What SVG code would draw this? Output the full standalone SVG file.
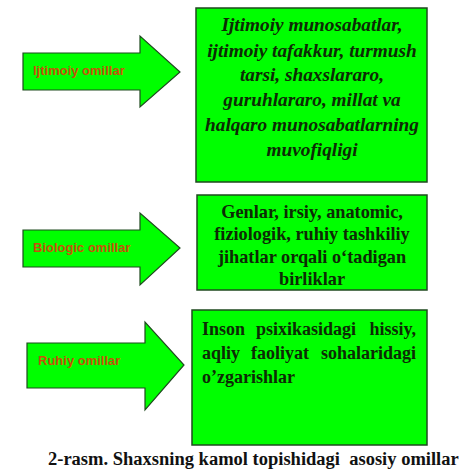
<svg xmlns="http://www.w3.org/2000/svg" width="473" height="472" viewBox="0 0 473 472">
<style>
.arrow{fill:#00ff00;stroke:#1f4a1f;stroke-width:1.2}
.box{fill:#00ff00;stroke:#1f4a1f;stroke-width:1.5}
.lbl{font-family:"Liberation Sans",Arial,sans-serif;font-weight:bold;font-size:13px;fill:#c8500a}
.t1{font-family:"Liberation Serif","Times New Roman",serif;font-weight:bold;font-style:italic;font-size:19.3px;fill:#0d2a05;text-anchor:middle}
.t2{font-family:"Liberation Serif","Times New Roman",serif;font-weight:bold;font-size:18.3px;fill:#0d2a05;text-anchor:middle}
.t3{font-family:"Liberation Serif","Times New Roman",serif;font-weight:bold;font-size:18px;fill:#0d2a05}
.cap{font-family:"Liberation Serif","Times New Roman",serif;font-weight:bold;font-size:18.5px;fill:#111}
</style>
<rect width="473" height="472" fill="#ffffff"/>
<g id="connectors">
<g id="arrow1"><polygon class="arrow" points="23,53 140,53 140,36 180,72 140,107 140,90 23,90"/><text class="lbl" x="33" y="75">Ijtimoiy omillar</text></g>
<g id="arrow2"><polygon class="arrow" points="23,230 140,230 140,213 180,248 140,285 140,267 23,267"/><text class="lbl" x="33" y="252">Biologic omillar</text></g>
<g id="arrow3"><polygon class="arrow" points="27,343 145,343 145,322 184,365 145,410 145,388 27,388"/><text class="lbl" x="38" y="365">Ruhiy omillar</text></g>
</g>
<g id="box1">
<rect class="box" x="196" y="8" width="231" height="174"/>
<text class="t1" x="312" y="31">Ijtimoiy munosabatlar,</text>
<text class="t1" x="312" y="57">ijtimoiy tafakkur, turmush</text>
<text class="t1" x="312" y="81">tarsi, shaxslararo,</text>
<text class="t1" x="312" y="106">guruhlararo, millat va</text>
<text class="t1" x="312" y="131">halqaro munosabatlarning</text>
<text class="t1" x="312" y="156">muvofiqligi</text>
</g>
<g id="box2">
<rect class="box" x="197" y="195" width="230" height="95"/>
<text class="t2" x="312" y="218">Genlar, irsiy, anatomic,</text>
<text class="t2" x="312" y="240">fiziologik, ruhiy tashkiliy</text>
<text class="t2" x="312" y="263">jihatlar orqali o‘tadigan</text>
<text class="t2" x="312" y="285">birliklar</text>
</g>
<g id="box3">
<rect class="box" x="192" y="310" width="235" height="135"/>
<text class="t3" x="202" y="335">Inson</text>
<text class="t3" x="306" y="335" text-anchor="middle">psixikasidagi</text>
<text class="t3" x="416" y="335" text-anchor="end">hissiy,</text>
<text class="t3" x="202" y="359">aqliy</text>
<text class="t3" x="280" y="359" text-anchor="middle">faoliyat</text>
<text class="t3" x="416" y="359" text-anchor="end">sohalaridagi</text>
<text class="t3" x="202" y="383">o’zgarishlar</text>
</g>
<text class="cap" x="48" y="465" xml:space="preserve">2-rasm. Shaxsning kamol topishidagi  asosiy omillar</text>
</svg>
